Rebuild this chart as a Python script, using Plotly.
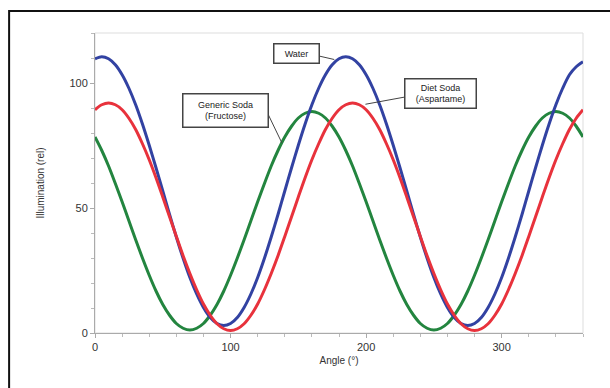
import plotly.graph_objects as go

# ---- data ----
angle = list(range(0, 361, 5))
water = [109.7, 110.5, 109.7, 107.3, 103.3, 97.9, 91.3, 83.6, 75.1, 66.1,
         56.8, 47.4, 38.4, 29.9, 22.2, 15.6, 10.2, 6.2, 3.8, 3.0,
         3.8, 6.2, 10.2, 15.6, 22.2, 29.9, 38.4, 47.4, 56.8, 66.1,
         75.1, 83.6, 91.3, 97.9, 103.3, 107.3, 109.7, 110.5, 109.7, 107.3,
         103.3, 97.9, 91.3, 83.6, 75.1, 66.1, 56.8, 47.4, 38.4, 29.9,
         22.2, 15.6, 10.2, 6.2, 3.8, 3.0, 3.8, 6.2, 10.2, 15.6,
         22.2, 29.9, 38.4, 47.4, 56.8, 66.1, 75.1, 83.6, 91.3, 97.9,
         103.3, 106.5, 108.5]
diet_soda = [89.3, 91.3, 92.0, 91.3, 89.3, 85.9, 81.4, 75.7, 69.3, 62.1,
             54.4, 46.5, 38.6, 30.9, 23.8, 17.3, 11.6, 7.1, 3.7, 1.7,
             1.0, 1.7, 3.7, 7.1, 11.6, 17.3, 23.8, 30.9, 38.6, 46.5,
             54.4, 62.1, 69.3, 75.7, 81.4, 85.9, 89.3, 91.3, 92.0, 91.3,
             89.3, 85.9, 81.4, 75.7, 69.3, 62.1, 54.4, 46.5, 38.6, 30.9,
             23.8, 17.3, 11.6, 7.1, 3.7, 1.7, 1.0, 1.7, 3.7, 7.1,
             11.6, 17.3, 23.8, 30.9, 38.6, 46.5, 54.4, 62.1, 69.3, 75.7,
             81.4, 85.9, 89.3]
generic_soda = [78.4, 73.0, 66.8, 59.8, 52.5, 44.9, 37.3, 30.0, 23.1, 16.8,
                11.4, 7.1, 3.8, 1.9, 1.2, 1.9, 3.8, 7.1, 11.4, 16.8,
                23.1, 30.0, 37.3, 44.9, 52.5, 59.8, 66.8, 73.0, 78.4, 82.7,
                86.0, 87.9, 88.6, 87.9, 86.0, 82.7, 78.4, 73.0, 66.8, 59.8,
                52.5, 44.9, 37.3, 30.0, 23.1, 16.8, 11.4, 7.1, 3.8, 1.9,
                1.2, 1.9, 3.8, 7.1, 11.4, 16.8, 23.1, 30.0, 37.3, 44.9,
                52.5, 59.8, 66.8, 73.0, 78.4, 82.7, 86.0, 87.9, 88.6, 87.9,
                86.0, 82.7, 78.4]

x_ticks = [0, 100, 200, 300]
y_ticks = [0, 50, 100]

FONT = "Arial, Liberation Sans, Helvetica, sans-serif"
BLUE = "#3242a2"
RED = "#e8323c"
GREEN = "#23853f"

fig = go.Figure()
for name, vals, col in [("Generic Soda", generic_soda, GREEN),
                        ("Water", water, BLUE),
                        ("Diet Soda", diet_soda, RED)]:
    fig.add_trace(go.Scatter(x=angle, y=vals, mode="lines", name=name,
                             line=dict(color=col, width=3, shape="spline", smoothing=0.8),
                             showlegend=False, hoverinfo="skip"))

# annotation boxes (no arrows) + leader lines
boxes = [
    ("Water", 148.3, 111.8, 42, 16, (165.2, 110.8), (176.5, 109.4)),
    ("Generic Soda<br>(Fructose)", 95.9, 89.2, 82, 30, (127.6, 87.6), (137.9, 76.0)),
    ("Diet Soda<br>(Aspartame)", 255.2, 96.0, 68, 26, (228.7, 94.4), (199.5, 91.5)),
]
for text, bx, by, w, h, p0, p1 in boxes:
    fig.add_shape(type="line", xref="x", yref="y", x0=p0[0], y0=p0[1], x1=p1[0], y1=p1[1],
                  line=dict(color="#444444", width=1))
    fig.add_annotation(x=bx, y=by, xref="x", yref="y", text=text, showarrow=False,
                       font=dict(family=FONT, size=9, color="#222222"),
                       bgcolor="white", bordercolor="#444444", borderwidth=1.5,
                       borderpad=1, width=w, height=h, align="center")

# outer black frame (cropped figure)
fig.add_shape(type="rect", xref="paper", yref="paper",
              x0=-0.176, y0=-0.25, x1=1.1, y1=1.073,
              line=dict(color="#111111", width=2), layer="below")
# light plot border
fig.add_shape(type="rect", xref="paper", yref="paper", x0=0, y0=0, x1=1, y1=1,
              line=dict(color="#dddddd", width=1), layer="below")

fig.update_layout(
    width=610, height=388,
    margin=dict(l=95, r=27, t=33, b=55, autoexpand=False),
    paper_bgcolor="white", plot_bgcolor="white",
    font=dict(family=FONT, color="#333333"),
)
fig.update_xaxes(range=[0, 360], tickvals=x_ticks, ticks="outside", ticklen=4,
                 tickcolor="#aaaaaa", showline=True, linecolor="#aaaaaa", linewidth=1,
                 showgrid=False, zeroline=False, automargin=False,
                 minor=dict(dtick=20, ticks="outside", ticklen=3, tickcolor="#bbbbbb"),
                 tickfont=dict(size=11, color="#333333"),
                 title=dict(text="Angle (°)", font=dict(size=10, color="#333333"), standoff=4))
fig.update_yaxes(range=[0, 120], tickvals=y_ticks, ticks="outside", ticklen=4,
                 tickcolor="#aaaaaa", showline=True, linecolor="#aaaaaa", linewidth=1,
                 showgrid=False, zeroline=False, automargin=False,
                 minor=dict(dtick=10, ticks="outside", ticklen=3, tickcolor="#bbbbbb"),
                 tickfont=dict(size=11, color="#333333"),
                 title=dict(text="Illumination (rel)", font=dict(size=10, color="#333333"), standoff=22))

fig.write_html("out.html",
               config={"displayModeBar": False},
               post_script="document.body.style.margin='0';document.body.style.overflow='hidden';")
